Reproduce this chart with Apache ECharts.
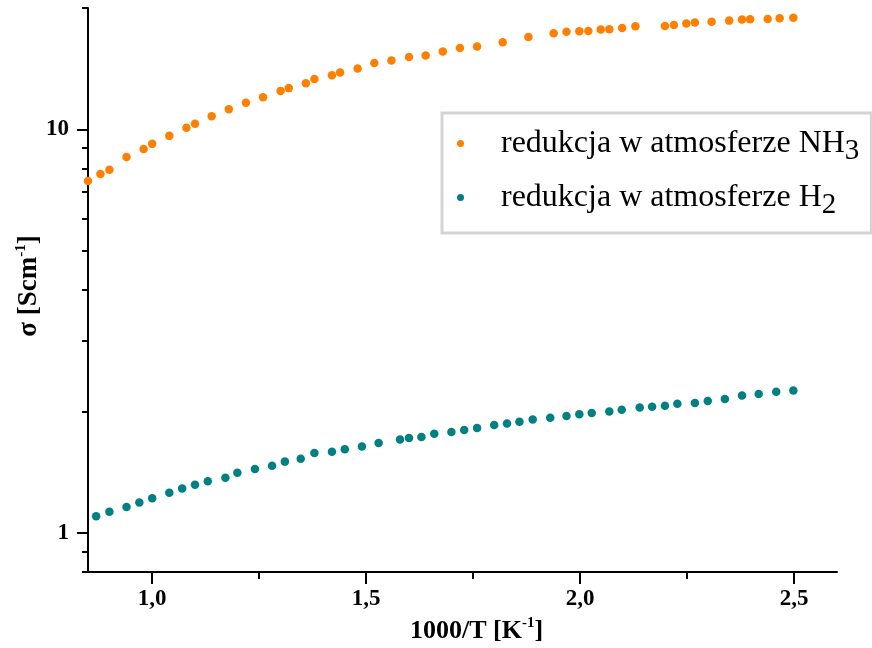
<!DOCTYPE html>
<html>
<head>
<meta charset="utf-8">
<title>Przewodnictwo elektryczne</title>
<script src="https://cdn.jsdelivr.net/npm/echarts@6/dist/echarts.min.js"></script>
<style>
  html, body { margin: 0; padding: 0; background: #ffffff; }
  #chart { width: 872px; height: 648px; }
</style>
</head>
<body>
<div id="chart"></div>
<script>
// Conductivity vs. reciprocal temperature for two reduction atmospheres
const seriesNames = ['redukcja w atmosferze NH3', 'redukcja w atmosferze H2'];
const legendBase = ['redukcja w atmosferze NH', 'redukcja w atmosferze H'];
const legendSub = ['3', '2'];

// 1000/T [K^-1]
const nh3X = [0.850, 0.879, 0.900, 0.940, 0.980, 1.000, 1.040, 1.080, 1.100, 1.139, 1.179, 1.219,
  1.259, 1.300, 1.319, 1.359, 1.379, 1.420, 1.439, 1.480, 1.519, 1.559, 1.600, 1.639,
  1.679, 1.719, 1.759, 1.819, 1.879, 1.938, 1.968, 1.998, 2.019, 2.048, 2.068, 2.098,
  2.129, 2.198, 2.219, 2.248, 2.268, 2.307, 2.348, 2.378, 2.397, 2.438, 2.466, 2.498];
// sigma [S/cm]
const nh3Y = [7.45, 7.76, 7.94, 8.55, 8.95, 9.21, 9.64, 10.1, 10.33, 10.79, 11.23, 11.64,
  12.02, 12.46, 12.66, 13.02, 13.34, 13.63, 13.84, 14.16, 14.62, 14.82, 15.13, 15.25,
  15.60, 15.92, 16.05, 16.45, 16.95, 17.31, 17.46, 17.51, 17.54, 17.68, 17.71, 17.84,
  18.02, 18.05, 18.15, 18.30, 18.40, 18.50, 18.61, 18.72, 18.75, 18.78, 18.86, 18.93];

const h2X = [0.869, 0.900, 0.940, 0.970, 1.000, 1.040, 1.070, 1.100, 1.130, 1.171, 1.199, 1.240,
  1.280, 1.310, 1.347, 1.379, 1.420, 1.450, 1.490, 1.529, 1.579, 1.600, 1.629, 1.659,
  1.699, 1.729, 1.759, 1.799, 1.829, 1.858, 1.889, 1.930, 1.968, 1.998, 2.027, 2.068,
  2.097, 2.139, 2.168, 2.198, 2.227, 2.268, 2.298, 2.338, 2.378, 2.417, 2.458, 2.498];
const h2Y = [1.099, 1.129, 1.160, 1.189, 1.218, 1.258, 1.289, 1.317, 1.342, 1.370, 1.410, 1.440,
  1.468, 1.502, 1.527, 1.578, 1.590, 1.611, 1.638, 1.670, 1.705, 1.718, 1.728, 1.761,
  1.778, 1.799, 1.820, 1.851, 1.867, 1.886, 1.910, 1.929, 1.948, 1.968, 1.982, 2.000,
  2.020, 2.046, 2.054, 2.066, 2.089, 2.098, 2.122, 2.146, 2.191, 2.208, 2.237, 2.254];

// axis ticks
const xMajorTicks = [1.0, 1.5, 2.0, 2.5];
const xMinorTicks = [1.25, 1.75, 2.25];
const yMajorTicks = [1, 10];
const yMinorTicks = [0.8, 0.9, 2, 3, 4, 5, 6, 7, 8, 9, 20];

const FONT = "'Liberation Serif', 'Times New Roman', serif";
const BLACK = '#000000';
const X_MIN = 0.85, X_MAX = 2.6, Y_MIN = 0.8, Y_MAX = 20;

const zip = (xs, ys) => xs.map((x, i) => [x, ys[i]]);

const chart = echarts.init(document.getElementById('chart'), null, { renderer: 'canvas' });

const axisLineStyle = { show: true, lineStyle: { color: BLACK, width: 2 } };

chart.setOption({
  backgroundColor: '#ffffff',
  animation: false,
  grid: { left: 88, right: 35, top: 8, bottom: 76, containLabel: false, outerBoundsMode: 'none' },
  legend: {
    orient: 'vertical',
    left: 442,
    top: 113,
    padding: [8, 12, 13, 15],
    itemGap: 9,
    itemWidth: 7,
    itemHeight: 7,
    icon: 'circle',
    borderColor: '#d4d4d4',
    borderWidth: 3,
    backgroundColor: '#ffffff',
    selectedMode: false,
    data: seriesNames,
    formatter: name => {
      const i = seriesNames.indexOf(name);
      return '{t|' + legendBase[i] + '}{s|' + legendSub[i] + '}';
    },
    textStyle: {
      color: BLACK,
      fontFamily: FONT,
      rich: {
        t: { fontFamily: FONT, fontSize: 32, color: BLACK, lineHeight: 36, padding: [0, 0, 0, 32] },
        s: { fontFamily: FONT, fontSize: 29, color: BLACK, lineHeight: 36, padding: [16, 0, 0, 0] }
      }
    }
  },
  xAxis: [
    {
      type: 'value', position: 'bottom', min: X_MIN, max: X_MAX,
      axisLine: axisLineStyle,
      axisTick: { show: true, length: 12, lineStyle: { color: BLACK, width: 2 }, customValues: xMajorTicks },
      axisLabel: {
        show: true, customValues: xMajorTicks, margin: 16,
        color: BLACK, fontFamily: FONT, fontWeight: 'bold', fontSize: 23,
        formatter: v => v.toFixed(1).replace('.', ',')
      },
      splitLine: { show: false },
      name: '{a0|1000/T [K}{p|-1}{a|]}',
      nameLocation: 'middle',
      nameGap: 44,
      nameTextStyle: {
        rich: {
          a0: { fontFamily: FONT, fontWeight: 'bold', fontSize: 26, color: BLACK, padding: [0, 0, 0, 28] },
          a: { fontFamily: FONT, fontWeight: 'bold', fontSize: 26, color: BLACK },
          p: { fontFamily: FONT, fontWeight: 'bold', fontSize: 15, color: BLACK, padding: [0, 0, 15, 0] }
        }
      }
    },
    {
      type: 'value', position: 'bottom', offset: 0, min: X_MIN, max: X_MAX,
      axisLine: { show: false },
      axisTick: { show: true, length: 7, lineStyle: { color: BLACK, width: 2 }, customValues: xMinorTicks },
      axisLabel: { show: false },
      splitLine: { show: false }
    }
  ],
  yAxis: [
    {
      type: 'log', logBase: 10, position: 'left', min: Y_MIN, max: Y_MAX,
      axisLine: axisLineStyle,
      axisTick: { show: true, length: 11, lineStyle: { color: BLACK, width: 2 }, customValues: yMajorTicks },
      axisLabel: {
        show: true, customValues: yMajorTicks, margin: 19,
        color: BLACK, fontFamily: FONT, fontWeight: 'bold', fontSize: 23
      },
      splitLine: { show: false },
      name: '{a0|σ [Scm}{p|-1}{a|]}',
      nameLocation: 'middle',
      nameRotate: 90,
      nameGap: 44,
      nameMoveOverlap: false,
      nameTextStyle: {
        rich: {
          a0: { fontFamily: FONT, fontWeight: 'bold', fontSize: 27, color: BLACK, padding: [0, 0, 0, 8] },
          a: { fontFamily: FONT, fontWeight: 'bold', fontSize: 27, color: BLACK },
          p: { fontFamily: FONT, fontWeight: 'bold', fontSize: 15, color: BLACK, padding: [0, 0, 15, 0] }
        }
      }
    },
    {
      type: 'log', logBase: 10, position: 'left', offset: 0, min: Y_MIN, max: Y_MAX,
      axisLine: { show: false },
      axisTick: { show: true, length: 6, lineStyle: { color: BLACK, width: 2 }, customValues: yMinorTicks },
      axisLabel: { show: false },
      splitLine: { show: false }
    }
  ],
  series: [
    {
      name: seriesNames[0],
      type: 'scatter',
      xAxisIndex: 0, yAxisIndex: 0,
      symbol: 'circle', symbolSize: 8.5,
      clip: false,
      itemStyle: { color: '#ff8000', opacity: 1 },
      data: zip(nh3X, nh3Y)
    },
    {
      name: seriesNames[1],
      type: 'scatter',
      xAxisIndex: 0, yAxisIndex: 0,
      symbol: 'circle', symbolSize: 8.5,
      clip: false,
      itemStyle: { color: '#008080', opacity: 1 },
      data: zip(h2X, h2Y)
    }
  ]
});
</script>
</body>
</html>
